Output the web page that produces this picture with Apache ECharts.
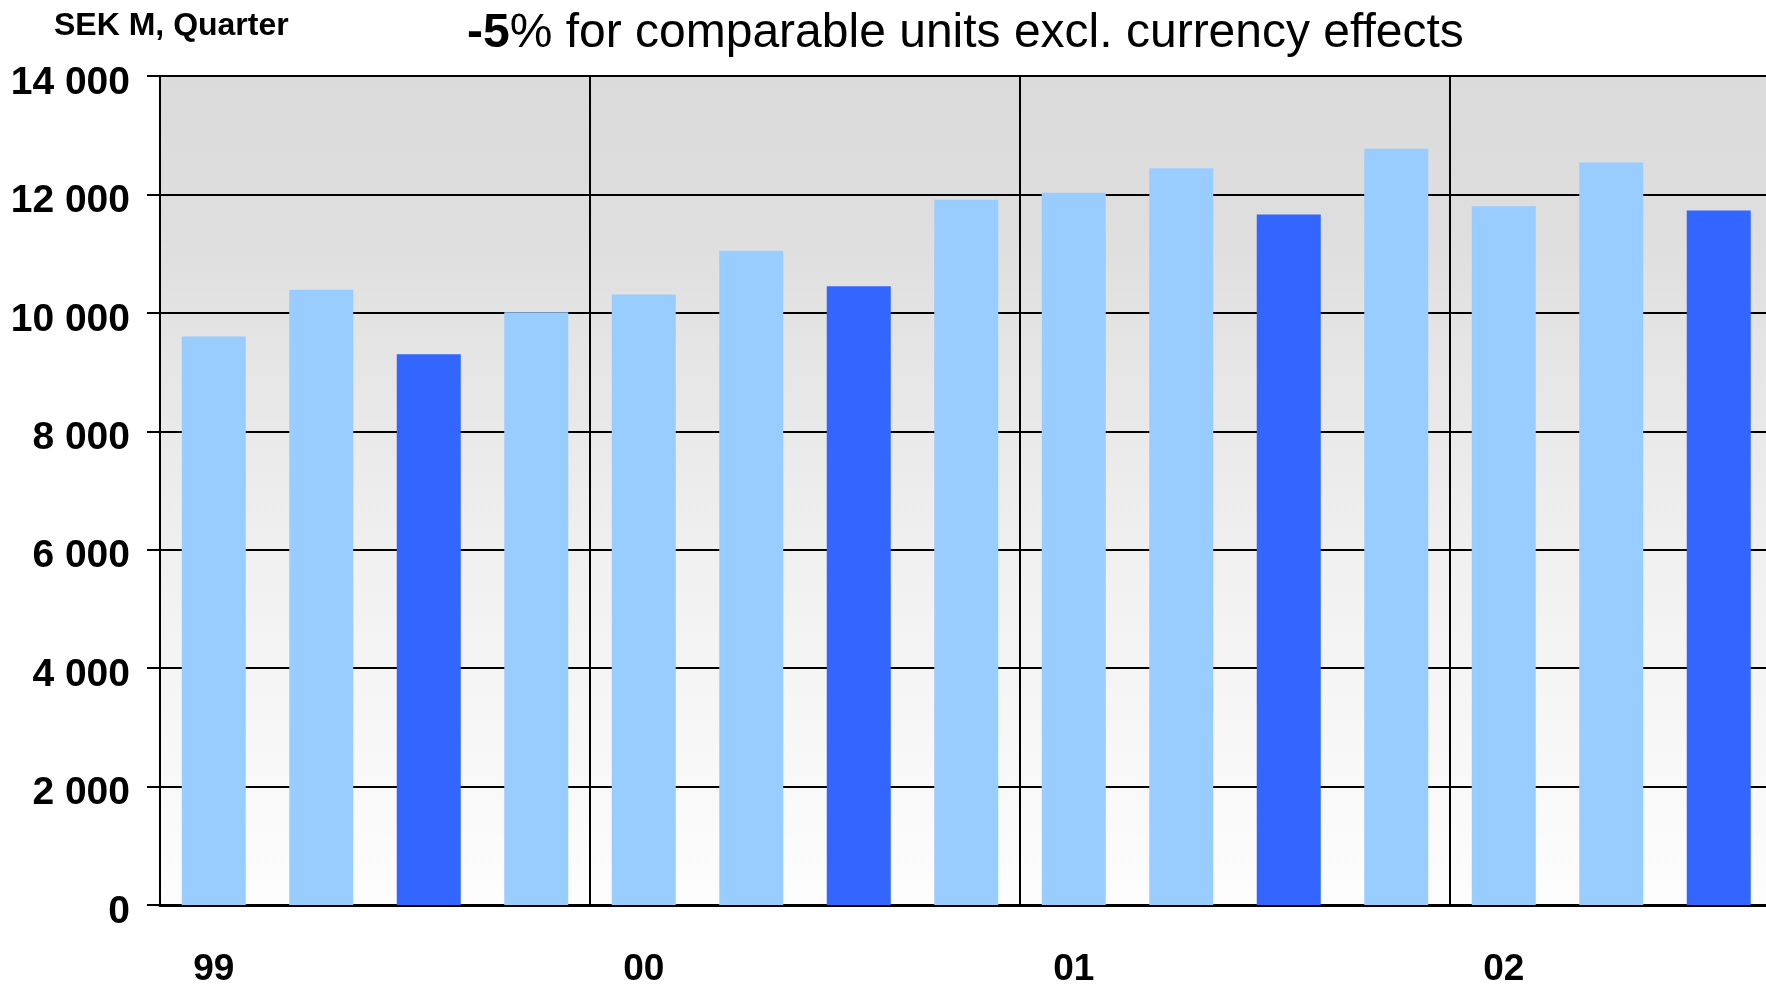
<!DOCTYPE html>
<html>
<head>
<meta charset="utf-8">
<title>SEK M, Quarter</title>
<script src="https://cdn.jsdelivr.net/npm/echarts@6/dist/echarts.min.js"></script>
<style>
  html, body { margin: 0; padding: 0; background: #ffffff; overflow: hidden; width: 1766px; height: 988px; }
  /* The plot continues past the right edge of the page; the last quarter slot lies outside the view */
  #chart { width: 1880px; height: 988px; }
</style>
</head>
<body>
<div id="chart"></div>
<script>
// Quarterly figures, SEK M (1999 Q1 – 2002 Q4; 2002 Q4 not yet reported)
const quarters = [
  '99 Q1', '99 Q2', '99 Q3', '99 Q4',
  '00 Q1', '00 Q2', '00 Q3', '00 Q4',
  '01 Q1', '01 Q2', '01 Q3', '01 Q4',
  '02 Q1', '02 Q2', '02 Q3', '02 Q4'
];
const yearLabels = ['99', '', '', '', '00', '', '', '', '01', '', '', '', '02', '', '', ''];
const values = [
  9600, 10390, 9300, 10010,
  10310, 11050, 10450, 11910,
  12030, 12440, 11660, 12770,
  11800, 12540, 11730, null
];
const yTicks = [0, 2000, 4000, 6000, 8000, 10000, 12000, 14000];

// Third-quarter bars are highlighted in a darker blue
const quarterColors = ['#99CCFF', '#99CCFF', '#3366FF', '#99CCFF'];

const FONT = "'Liberation Sans', Arial, Helvetica, sans-serif";

function groupThousands(v) {
  return String(v).replace(/\B(?=(\d{3})+(?!\d))/g, ' ');
}

const chart = echarts.init(document.getElementById('chart'), null, { renderer: 'canvas' });

chart.setOption({
  animation: false,
  backgroundColor: '#ffffff',
  title: [
    {
      text: '{b|-5}{n|% for comparable units excl. currency effects}',
      left: 462,
      top: 5,
      textStyle: {
        rich: {
          b: { fontFamily: FONT, fontWeight: 'bold', fontSize: 48, color: '#000' },
          n: { fontFamily: FONT, fontWeight: 'normal', fontSize: 48, color: '#000' }
        }
      }
    },
    {
      text: 'SEK M, Quarter',
      left: 49,
      top: 5,
      textStyle: { fontFamily: FONT, fontWeight: 'bold', fontSize: 32, color: '#000' }
    }
  ],
  grid: {
    left: 160,
    right: 0,
    top: 76,
    bottom: 78,
    show: true,
    borderWidth: 0,
    backgroundColor: new echarts.graphic.LinearGradient(0, 0, 0, 1, [
      { offset: 0, color: '#DBDBDB' },
      { offset: 0.18, color: '#DEDEDE' },
      { offset: 0.6, color: '#F1F1F1' },
      { offset: 1, color: '#FDFDFD' }
    ])
  },
  xAxis: {
    type: 'category',
    data: quarters,
    boundaryGap: true,
    axisLine: { show: true, lineStyle: { color: '#000', width: 3 } },
    axisTick: { show: false },
    axisLabel: {
      interval: 0,
      margin: 46,
      formatter: (v, i) => yearLabels[i],
      fontFamily: FONT,
      fontWeight: 'bold',
      fontSize: 37,
      color: '#000'
    },
    splitLine: {
      show: true,
      interval: (i) => i % 4 === 0,
      lineStyle: { color: '#000', width: 2 }
    }
  },
  yAxis: {
    type: 'value',
    min: yTicks[0],
    max: yTicks[yTicks.length - 1],
    interval: yTicks[1] - yTicks[0],
    axisLine: { show: true, lineStyle: { color: '#000', width: 2 } },
    axisTick: { show: true, inside: false, length: 13, lineStyle: { color: '#000', width: 2 } },
    axisLabel: {
      margin: 30,
      formatter: groupThousands,
      fontFamily: FONT,
      fontWeight: 'bold',
      fontSize: 39,
      color: '#000',
      verticalAlign: 'top',
      lineHeight: 14
    },
    splitLine: { show: true, lineStyle: { color: '#000', width: 2 } }
  },
  series: [
    {
      type: 'bar',
      barWidth: 64,
      data: values.map((v, i) => ({
        value: v,
        itemStyle: { color: quarterColors[i % 4] }
      }))
    }
  ]
});
</script>
</body>
</html>
